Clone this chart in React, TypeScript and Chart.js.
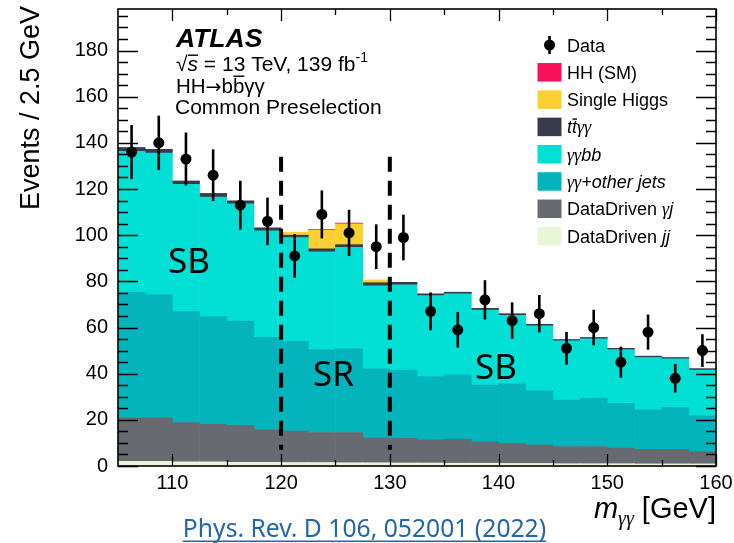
import { useEffect, useRef } from "react";
import { Chart, registerables } from "chart.js";

Chart.register(...registerables);

// m_yy bins, 2.5 GeV wide, 105-160 GeV
const binCenters = [
  106.25, 108.75, 111.25, 113.75, 116.25, 118.75, 121.25, 123.75, 126.25, 128.75, 131.25,
  133.75, 136.25, 138.75, 141.25, 143.75, 146.25, 148.75, 151.25, 153.75, 156.25, 158.75,
];

const dataEvents = [136, 140, 133, 126, 113, 106, 91, 109, 101, 95, 99, 67, 59, 72, 63, 66, 51, 60, 45, 58, 38, 50];
const dataErrors = [11.7, 11.8, 11.5, 11.2, 10.6, 10.3, 9.5, 10.4, 10.0, 9.7, 9.9, 8.2, 7.7, 8.5, 7.9, 8.1, 7.1, 7.7, 6.7, 7.6, 6.2, 7.1];

const bkgJJ = [2.0, 2.0, 1.8, 1.8, 1.6, 1.6, 1.5, 1.5, 1.4, 1.4, 1.3, 1.3, 1.2, 1.2, 1.1, 1.1, 1.0, 1.0, 1.0, 0.9, 0.9, 0.9];
const bkgGammaJet = [19.0, 19.0, 17.0, 16.3, 15.9, 14.2, 13.6, 13.0, 13.1, 10.7, 10.7, 10.0, 10.4, 9.3, 8.7, 8.0, 7.4, 7.4, 6.7, 6.3, 6.3, 5.3];
const bkgYYOtherJets = [54.2, 53.2, 48.1, 46.6, 45.3, 39.9, 38.9, 35.8, 36.4, 30.0, 29.6, 27.4, 27.9, 24.6, 25.8, 23.5, 20.2, 20.9, 19.5, 17.1, 18.1, 15.5];
const bkgYYbb = [61.1, 61.4, 55.1, 51.8, 50.8, 46.2, 45.0, 42.5, 43.8, 36.0, 36.9, 35.1, 35.1, 32.5, 29.7, 28.1, 25.6, 25.8, 23.2, 22.7, 21.1, 19.9];
const bkgTTYY = [1.7, 1.6, 1.5, 1.6, 1.3, 1.3, 1.0, 1.3, 1.2, 1.3, 1.1, 0.8, 0.7, 0.7, 0.7, 0.7, 0.6, 0.6, 0.6, 0.6, 0.6, 0.6];
const singleHiggs = [0, 0, 0, 0, 0, 0, 1.3, 8.0, 9.0, 1.2, 0, 0, 0, 0, 0, 0, 0, 0, 0, 0, 0, 0];
const hhSM = [0, 0, 0, 0, 0, 0, 0, 0.35, 0.35, 0, 0, 0, 0, 0, 0, 0, 0, 0, 0, 0, 0, 0];

// signal-region boundaries and the extent of the dashed markers
const regionEdges = [120, 130];
const regionLineRange = [7, 134];

const xMajorTicks = [110, 120, 130, 140, 150, 160];
const xMinorTicks = [115, 125, 135, 145, 155];
const yMajorTicks = [0, 20, 40, 60, 80, 100, 120, 140, 160, 180];
const yMinorTicks = [5, 10, 15, 25, 30, 35, 45, 50, 55, 65, 70, 75, 85, 90, 95, 105, 110, 115, 125, 130, 135, 145, 150, 155, 165, 170, 175, 185, 190, 195];

const X_MIN = 105;
const X_MAX = 160;
const Y_MIN = 0;
const Y_MAX = 198;

const COLORS = {
  hh: "#f7105a",
  singleH: "#fcd033",
  ttyy: "#383b4b",
  yybb: "#02e0d5",
  yyOther: "#03b4bd",
  gammaJet: "#676a71",
  jj: "#e9f6d8",
};

const SANS = '"Liberation Sans", Arial, sans-serif';
const SERIF = '"Liberation Serif", serif';
const NOTO = '"Noto Sans", sans-serif';
const DEJAVU = '"DejaVu Sans", sans-serif';

type Part = { t: string; f: string; dy?: number; bar?: number };

function drawParts(ctx: CanvasRenderingContext2D, parts: Part[], x: number, y: number, align: "left" | "right" = "left") {
  ctx.textAlign = "left";
  ctx.textBaseline = "alphabetic";
  const widths = parts.map((p) => {
    ctx.font = p.f;
    return ctx.measureText(p.t).width;
  });
  const total = widths.reduce((a, b) => a + b, 0);
  let cx = align === "right" ? x - total : x;
  parts.forEach((p, i) => {
    ctx.font = p.f;
    const by = y + (p.dy || 0);
    ctx.fillText(p.t, cx, by);
    if (p.bar !== undefined) {
      ctx.fillRect(cx + 0.5, by - p.bar, widths[i] - 0.5, 1.4);
    }
    cx += widths[i];
  });
}

const histPlugin = {
  id: "histDecor",
  beforeDatasetDraw(chart: any, args: any) {
    if (args.meta.type !== "scatter") return;
    const { ctx, scales } = chart;
    const x = scales.x;
    const y = scales.y;
    ctx.save();
    // SR / SB boundaries
    ctx.strokeStyle = "#000";
    ctx.lineWidth = 4;
    ctx.setLineDash([15, 9]);
    regionEdges.forEach((edge) => {
      const px = x.getPixelForValue(edge);
      ctx.beginPath();
      ctx.moveTo(px, y.getPixelForValue(regionLineRange[1]));
      ctx.lineTo(px, y.getPixelForValue(regionLineRange[0]));
      ctx.stroke();
    });
    ctx.setLineDash([]);
    // statistical error bars on data
    ctx.lineWidth = 2.6;
    binCenters.forEach((c, i) => {
      const px = x.getPixelForValue(c);
      ctx.beginPath();
      ctx.moveTo(px, y.getPixelForValue(dataEvents[i] + dataErrors[i]));
      ctx.lineTo(px, y.getPixelForValue(dataEvents[i] - dataErrors[i]));
      ctx.stroke();
    });
    ctx.restore();
  },
  afterDraw(chart: any) {
    const { ctx, chartArea: a, scales } = chart;
    const x = scales.x;
    const y = scales.y;
    ctx.save();
    ctx.fillStyle = "#000";
    ctx.strokeStyle = "#000";

    // inward ticks on all four sides
    ctx.lineWidth = 1.3;
    const vTick = (v: number, len: number) => {
      const py = Math.round(y.getPixelForValue(v)) + 0.5;
      ctx.beginPath();
      ctx.moveTo(a.left, py);
      ctx.lineTo(a.left + len, py);
      ctx.moveTo(a.right, py);
      ctx.lineTo(a.right - len, py);
      ctx.stroke();
    };
    const hTick = (v: number, len: number) => {
      const px = Math.round(x.getPixelForValue(v)) + 0.5;
      ctx.beginPath();
      ctx.moveTo(px, a.bottom);
      ctx.lineTo(px, a.bottom - len);
      ctx.moveTo(px, a.top);
      ctx.lineTo(px, a.top + len);
      ctx.stroke();
    };
    yMajorTicks.forEach((v) => vTick(v, 20));
    yMinorTicks.forEach((v) => vTick(v, 10));
    xMajorTicks.forEach((v) => hTick(v, 12));
    xMinorTicks.forEach((v) => hTick(v, 6));

    // frame
    ctx.lineWidth = 1.6;
    ctx.strokeRect(a.left, a.top, a.right - a.left, a.bottom - a.top);

    // axis titles
    ctx.save();
    ctx.translate(39, 108);
    ctx.rotate(-Math.PI / 2);
    ctx.font = `27px ${SANS}`;
    ctx.textAlign = "center";
    ctx.textBaseline = "alphabetic";
    ctx.fillText("Events / 2.5 GeV", 0, 0);
    ctx.restore();

    drawParts(
      ctx,
      [
        { t: "m", f: `italic 29px ${SANS}` },
        { t: "γγ", f: `italic 20px ${SERIF}`, dy: 7 },
        { t: " [GeV]", f: `29px ${SANS}` },
      ],
      a.right,
      518,
      "right"
    );

    // experiment label block
    drawParts(ctx, [{ t: "ATLAS", f: `bold italic 26.5px ${SANS}` }], 176, 46.5);
    drawParts(
      ctx,
      [
        { t: "√", f: `21px ${SANS}` },
        { t: "s", f: `italic 21px ${SANS}`, bar: 16.5 },
        { t: " = 13 TeV, 139 fb", f: `21px ${SANS}` },
        { t: "-1", f: `14px ${SANS}`, dy: -9 },
      ],
      176,
      71
    );
    drawParts(
      ctx,
      [
        { t: "HH", f: `20.5px ${SANS}` },
        { t: "→", f: `19px ${DEJAVU}`, dy: -0.5 },
        { t: "b", f: `20.5px ${SANS}` },
        { t: "b", f: `20.5px ${SANS}`, bar: 17.5 },
        { t: "γγ", f: `20.5px ${SANS}` },
      ],
      176,
      93
    );
    drawParts(ctx, [{ t: "Common Preselection", f: `21px ${SANS}` }], 175, 114);

    // region labels
    ctx.font = `35px ${NOTO}`;
    ctx.textAlign = "left";
    ctx.textBaseline = "alphabetic";
    ctx.fillText("SB", 168, 273);
    ctx.fillText("SR", 313, 386);
    ctx.fillText("SB", 475, 379);

    // legend
    const rowY = (i: number) => 45 + 27.3 * i;
    const boxX = 537.5;
    const textX = 567;
    const lf = `18px ${SANS}`;
    const li = `italic 18px ${SANS}`;
    const lg = `italic 18px ${SERIF}`;
    // Data marker
    ctx.lineWidth = 2.6;
    ctx.beginPath();
    ctx.moveTo(boxX + 12, rowY(0) - 9);
    ctx.lineTo(boxX + 12, rowY(0) + 9);
    ctx.stroke();
    ctx.beginPath();
    ctx.arc(boxX + 12, rowY(0), 5.5, 0, Math.PI * 2);
    ctx.fill();
    const entries: { color: string | null; parts: Part[] }[] = [
      { color: null, parts: [{ t: "Data", f: lf }] },
      { color: COLORS.hh, parts: [{ t: "HH (SM)", f: lf }] },
      { color: COLORS.singleH, parts: [{ t: "Single Higgs", f: lf }] },
      {
        color: COLORS.ttyy,
        parts: [
          { t: "t", f: li },
          { t: "t", f: li, bar: 15 },
          { t: "γγ", f: lg },
        ],
      },
      { color: COLORS.yybb, parts: [{ t: "γγ", f: lg }, { t: "bb", f: li }] },
      { color: COLORS.yyOther, parts: [{ t: "γγ", f: lg }, { t: "+other jets", f: li }] },
      { color: COLORS.gammaJet, parts: [{ t: "DataDriven ", f: lf }, { t: "γ", f: lg }, { t: "j", f: li }] },
      { color: COLORS.jj, parts: [{ t: "DataDriven ", f: lf }, { t: "jj", f: li }] },
    ];
    entries.forEach((e, i) => {
      const cy = rowY(i);
      if (e.color) {
        ctx.fillStyle = e.color;
        ctx.fillRect(boxX, cy - 9.25, 24, 18.5);
      }
      ctx.fillStyle = "#000";
      drawParts(ctx, e.parts, textX, cy + 6.5);
    });

    // reference link
    ctx.fillStyle = "#2566a8";
    ctx.font = `24.7px ${NOTO}`;
    ctx.textAlign = "center";
    ctx.textBaseline = "alphabetic";
    const ref = "Phys. Rev. D 106, 052001 (2022)";
    ctx.fillText(ref, 364.5, 536.5);
    const w = ctx.measureText(ref).width;
    ctx.fillRect(364.5 - w / 2, 540.5, w, 1.5);

    ctx.restore();
  },
};

function stackSeries(label: string, values: number[], color: string) {
  return {
    type: "bar" as const,
    label,
    // empty bins are left out so no sliver is drawn for them
    data: binCenters
      .map((c, i) => ({ x: c, y: values[i] }))
      .filter((p) => p.y > 0),
    backgroundColor: color,
    borderWidth: 0,
    stack: "bkg",
    order: 1,
    barPercentage: 1,
    categoryPercentage: 1,
  };
}

export default function App() {
  const canvasRef = useRef<HTMLCanvasElement | null>(null);

  useEffect(() => {
    const canvas = canvasRef.current;
    if (!canvas) return;
    const chart = new Chart(canvas, {
      type: "bar",
      data: {
        datasets: [
          stackSeries("DataDriven jj", bkgJJ, COLORS.jj),
          stackSeries("DataDriven γj", bkgGammaJet, COLORS.gammaJet),
          stackSeries("γγ+other jets", bkgYYOtherJets, COLORS.yyOther),
          stackSeries("γγbb", bkgYYbb, COLORS.yybb),
          stackSeries("ttγγ", bkgTTYY, COLORS.ttyy),
          stackSeries("Single Higgs", singleHiggs, COLORS.singleH),
          stackSeries("HH (SM)", hhSM, COLORS.hh),
          {
            type: "scatter" as const,
            label: "Data",
            data: binCenters.map((c, i) => ({ x: c, y: dataEvents[i] })),
            backgroundColor: "#000",
            borderWidth: 0,
            pointRadius: 5.5,
            stack: "obs",
            order: 0,
          } as any,
        ],
      },
      options: {
        animation: false,
        responsive: false,
        maintainAspectRatio: false,
        devicePixelRatio: 1,
        layout: { padding: { top: 9, right: 18, left: 0, bottom: 0 } },
        plugins: { legend: { display: false }, tooltip: { enabled: false } },
        scales: {
          x: {
            type: "linear",
            min: X_MIN,
            max: X_MAX,
            offset: false,
            grid: { display: false, drawTicks: false },
            border: { display: false },
            ticks: {
              color: "#000",
              font: { family: SANS, size: 20 },
              padding: 5,
              maxRotation: 0,
              autoSkip: false,
              callback: (v: any) => String(v),
            },
            afterBuildTicks: (s: any) => {
              s.ticks = xMajorTicks.map((v) => ({ value: v }));
            },
            afterFit: (s: any) => {
              s.height = 77;
              s.paddingLeft = 0;
              s.paddingRight = 0;
            },
          },
          y: {
            type: "linear",
            min: Y_MIN,
            max: Y_MAX,
            stacked: true,
            grid: { display: false, drawTicks: false },
            border: { display: false },
            ticks: {
              color: "#000",
              font: { family: SANS, size: 20 },
              padding: 10,
              autoSkip: false,
              callback: (v: any) => String(v),
            },
            afterBuildTicks: (s: any) => {
              s.ticks = yMajorTicks.map((v) => ({ value: v }));
            },
            afterFit: (s: any) => {
              s.width = 118;
              s.paddingTop = 0;
              s.paddingBottom = 0;
            },
          },
        },
      } as any,
      plugins: [histPlugin],
    });
    return () => chart.destroy();
  }, []);

  return (
    <div style={{ position: "absolute", left: 0, top: 0, width: 734, height: 543, background: "#fff" }}>
      <canvas ref={canvasRef} width={734} height={543} style={{ display: "block" }} />
    </div>
  );
}
